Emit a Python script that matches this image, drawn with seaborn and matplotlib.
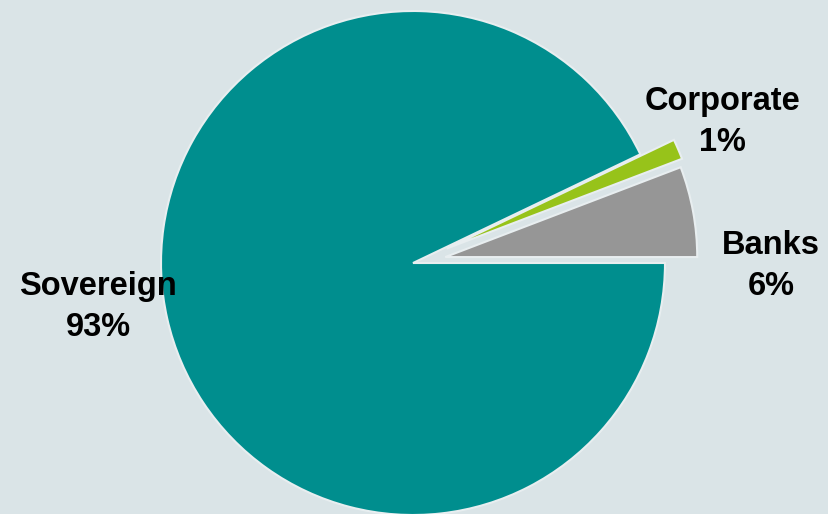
import matplotlib
matplotlib.use("Agg")
import matplotlib.pyplot as plt
import seaborn as sns

# Data (counter-clockwise from 3 o'clock)
sectors = ["Banks", "Corporate", "Sovereign"]
shares = [5.8, 1.3, 92.9]
share_labels = ["6%", "1%", "93%"]
colors = ["#969696", "#97C31A", "#008E8E"]

BG = "#DAE4E7"
sns.set_theme(style="white")
plt.rcParams["font.family"] = ["Liberation Sans", "DejaVu Sans"]

fig = plt.figure(figsize=(8.29, 5.14), dpi=100, facecolor=BG)
ax = fig.add_axes([0, 0, 1, 1])
ax.set_facecolor(BG)

R = 252.0  # pie radius in pixels
cx, cy = 413.0, 263.0  # pie centre in pixels (from top-left)

ax.pie(shares, colors=colors, startangle=0, counterclock=True,
       explode=[0.13, 0.145, 0.0], radius=1.0,
       wedgeprops=dict(edgecolor="#E8EEF0", linewidth=1.5))
ax.set_xlim(-cx / R, (829 - cx) / R)
ax.set_ylim(-(514 - cy) / R, cy / R)
ax.set_aspect("auto")
ax.axis("off")

# label anchors in pixels
label_pos = [(771, 266), (722, 122), (98, 307)]
for name, lab, (px, py) in zip(sectors, share_labels, label_pos):
    ax.text((px - cx) / R, (cy - py) / R, f"{name}\n{lab}",
            ha="center", va="center", fontsize=23.5, fontweight="bold",
            color="#000000", linespacing=1.45)

fig.savefig("out.png", dpi=100, facecolor=BG)
